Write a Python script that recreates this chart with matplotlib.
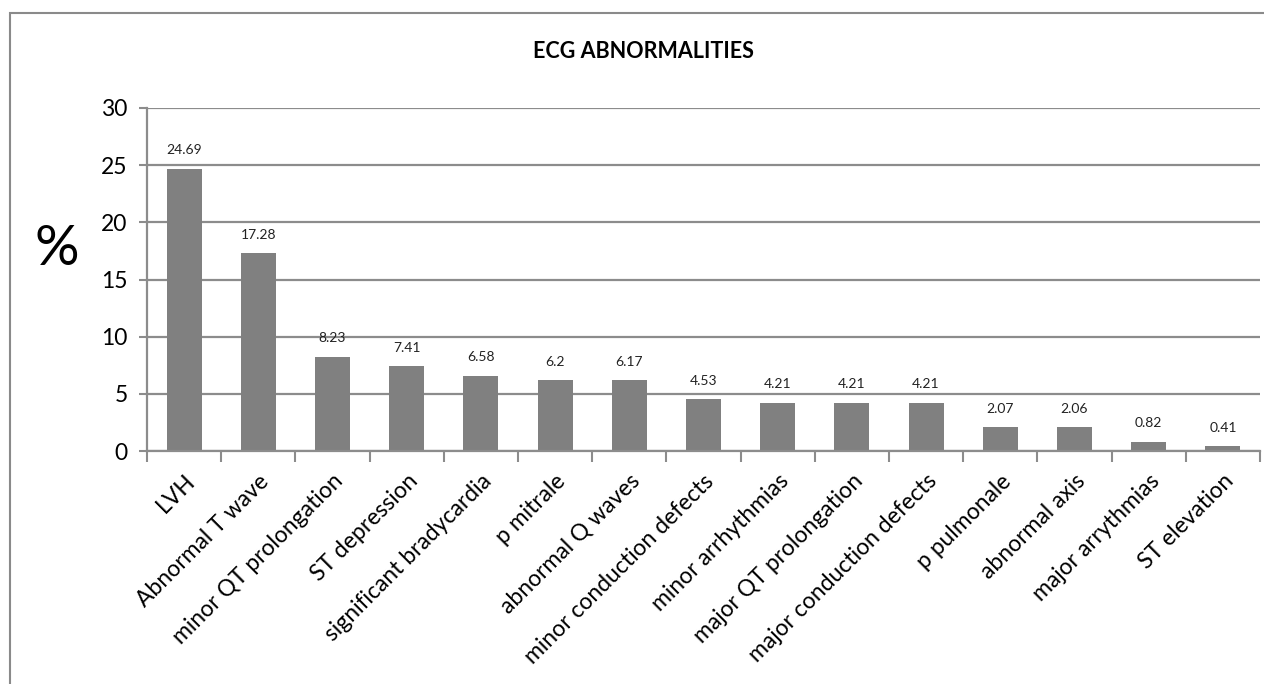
import matplotlib
matplotlib.use('Agg')
import matplotlib.pyplot as plt
from matplotlib.patches import Rectangle
import numpy as np

# ECG abnormality frequencies (%)
categories = ['LVH', 'Abnormal T wave', 'minor QT prolongation', 'ST depression',
              'significant bradycardia', 'p mitrale', 'abnormal Q waves',
              'minor conduction defects', 'minor arrhythmias', 'major QT prolongation',
              'major conduction defects', 'p pulmonale', 'abnormal axis',
              'major arrythmias', 'ST elevation']
values = [24.69, 17.28, 8.23, 7.41, 6.58, 6.2, 6.17, 4.53, 4.21, 4.21, 4.21,
          2.07, 2.06, 0.82, 0.41]
value_labels = ['24.69', '17.28', '8.23', '7.41', '6.58', '6.2', '6.17', '4.53',
                '4.21', '4.21', '4.21', '2.07', '2.06', '0.82', '0.41']
y_ticks = [0, 5, 10, 15, 20, 25, 30]

GRID = '#8c8c8c'
BAR = '#808080'

plt.rcParams['font.family'] = ['Lato', 'DejaVu Sans']

fig = plt.figure(figsize=(12.64, 6.84), dpi=100)
fig.patch.set_facecolor('white')

# outer chart frame
fig.patches.append(Rectangle((10 / 1264, -0.05), 1.2, 1 - 13 / 684 + 0.05,
                             transform=fig.transFigure, fill=False,
                             edgecolor='#8a8a8a', linewidth=1.5))

ax = fig.add_axes([147 / 1264, 1 - 451 / 684, (1260 - 147) / 1264, (451 - 108) / 684])

x = np.arange(len(categories))
ax.bar(x, values, width=0.47, color=BAR, zorder=3)

for xi, v, lbl in zip(x, values, value_labels):
    ax.annotate(lbl, (xi, v), xytext=(0, 9), textcoords='offset points',
                ha='center', va='bottom', fontsize=10, color='#222222')

ax.set_xlim(-0.5, len(categories) - 0.5)
ax.set_ylim(0, 30)
ax.set_yticks(y_ticks)
ax.set_yticklabels([str(t) for t in y_ticks], fontsize=16.5)
ax.yaxis.grid(True, color=GRID, linewidth=1.6, zorder=0)

ax.set_xticks(x)
ax.set_xticklabels(categories, rotation=45, ha='right', rotation_mode='anchor',
                   fontsize=16.5)
ax.set_xticks(np.arange(-0.5, len(categories)), minor=True)
ax.tick_params(axis='x', which='major', length=0, pad=14)
ax.tick_params(axis='x', which='minor', length=8, width=1.5, color=GRID)
ax.tick_params(axis='y', length=6, width=1.5, color=GRID, pad=8)

for side in ('top', 'right'):
    ax.spines[side].set_visible(False)
for side in ('left', 'bottom'):
    ax.spines[side].set_color(GRID)
    ax.spines[side].set_linewidth(1.6)
    ax.spines[side].set_zorder(4)

fig.text(643 / 1264, 1 - 52 / 684, 'ECG ABNORMALITIES', ha='center', va='center',
         fontsize=15.5, fontweight='bold')
fig.text(57 / 1264, 1 - 250 / 684, '%', ha='center', va='center', fontsize=40)

fig.savefig('out.png', dpi=100)
